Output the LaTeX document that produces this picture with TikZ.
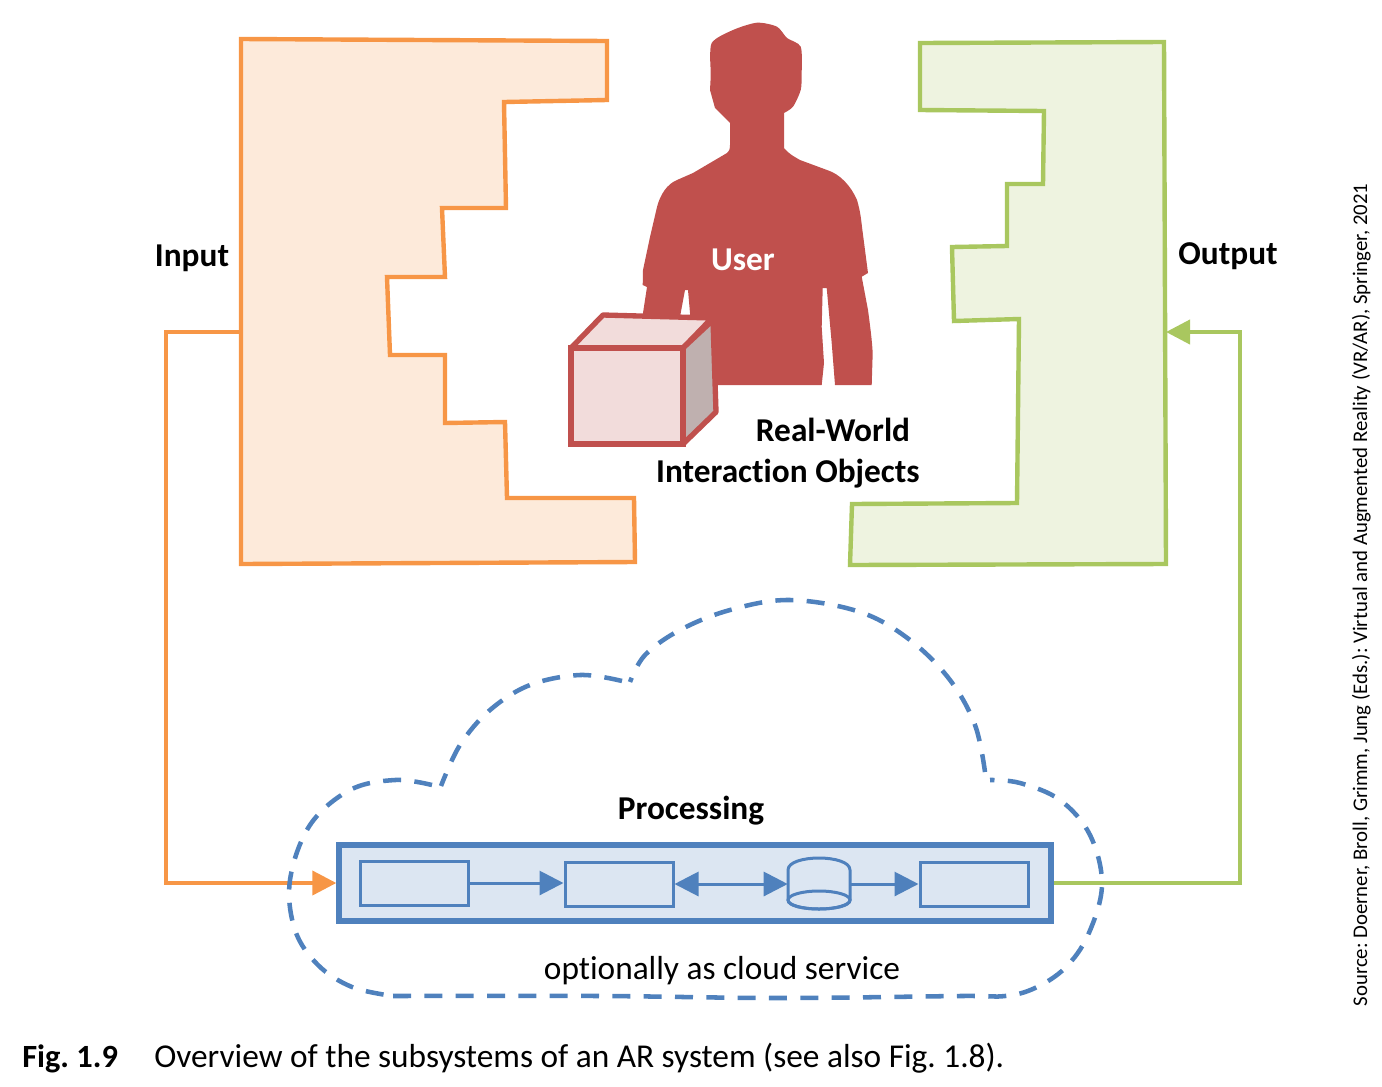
\documentclass[tikz,border=0pt]{standalone}
\usepackage{fontspec}
\setmainfont[Ligatures=NoCommon]{Carlito}
\usetikzlibrary{arrows.meta}
\definecolor{inO}{HTML}{F79646}
\definecolor{inF}{HTML}{FDEADA}
\definecolor{outG}{HTML}{A9C75F}
\definecolor{outF}{HTML}{EEF3E0}
\definecolor{usr}{HTML}{C0504D}
\definecolor{cubeF}{HTML}{F2DCDB}
\definecolor{cubeS}{HTML}{BFB0AF}
\definecolor{blu}{HTML}{4F81BD}
\definecolor{bluF}{HTML}{DCE6F2}
\tikzset{
  x=0.75pt,y=-0.75pt,
  lab/.style={inner sep=0pt,anchor=base,font=\fontsize{25}{30}\selectfont\bfseries},
  plain/.style={inner sep=0pt,anchor=base,font=\fontsize{25}{30}\selectfont},
  subsys/.style={line width=3.3pt,line join=miter},
  innerbox/.style={draw=blu,line width=2.25pt,inner sep=0pt,fill=bluF},
  flow/.style={blu,line width=2.25pt},
  bigtip/.style={-{Triangle[length=18pt,width=18pt]}},
  bothtip/.style={{Triangle[length=18pt,width=18pt]}-{Triangle[length=18pt,width=18pt]}},
  wire/.style={line width=3pt,line join=miter},
  cloudline/.style={blu,line width=3.4pt,dash pattern=on 13.5pt off 10pt},
}
\begin{document}
\frenchspacing
\begin{tikzpicture}
\useasboundingbox (0,0) rectangle (1382,1086);
% Input block
\draw[subsys,draw=inO,fill=inF] (241,39)--(607,41)--(607,100)--(504,102)--(506,208)--(442,208)--(445,277)--(387,277)--(390,355)--(445,355)--(445,423)--(505,422)--(507,498)--(634,498)--(635,562)--(241,564)--cycle;
% Output block
\draw[subsys,draw=outG,fill=outF] (920,43)--(1164,42)--(1166,564)--(850,565)--(852,504)--(1017,503)--(1019,319)--(954,321)--(952,247)--(1007,246)--(1007,184)--(1043,184)--(1044,111)--(920,110)--cycle;
% User silhouette
\fill[usr] plot[smooth,tension=0.45] coordinates {(710.7,70)(711.7,43)(733,30)(757,22.7)(777,26.7)(787,38)(800.7,46.7)(801.7,73)(800.7,90)(793,106.7)(784,113)}
  -- (784,148)
  .. controls (790,155) and (795,157) .. (800,160)
  -- (827,170)
  .. controls (840,174) and (851,186) .. (857,200)
  .. controls (860,210) and (861,218) .. (862,227)
  -- (868,273) -- (861.7,276.7) -- (868,310)
  .. controls (870,325) and (872,340) .. (872.7,353)
  -- (871.7,385) -- (835,385) -- (831.7,343) -- (826.7,288) -- (822.7,288) -- (821.7,327) -- (824,363) -- (821.7,385)
  -- (700,385) -- (690,313) -- (688,290) -- (685,290) -- (680.7,313) -- (665,385) -- (643,330) -- (643,313) -- (647,287) -- (642.7,285) -- (643,270) -- (650,237) -- (657,207)
  .. controls (660,195) and (667,184) .. (677,180)
  -- (693,173) -- (727,153)
  .. controls (730,150) and (730,148) .. (730,145)
  -- (730,123) -- (715,108) -- (710,90) -- (710.7,77) -- cycle;
% Cube
\draw[usr,line width=4pt,line join=bevel,fill=cubeF] (571,348)--(603,315)--(712,318)--(683,348)--cycle;
\draw[usr,line width=4pt,line join=bevel,fill=cubeS] (683,348)--(713,320)--(716,412)--(683,444)--cycle;
\draw[usr,line width=4pt,line join=miter,fill=cubeF] (571,348) rectangle (683,444);
% Processing
\node[draw=blu,fill=bluF,line width=4pt,inner sep=0pt,minimum width=534pt,minimum height=57pt] (proc) at (695,883) {};
\node[innerbox,minimum width=81pt,minimum height=33pt] (b1) at (414,883) {};
\node[innerbox,minimum width=81pt,minimum height=33pt] (b2) at (619,884) {};
\node[innerbox,minimum width=81pt,minimum height=33pt] (b3) at (974,884) {};
\node[inner sep=0pt,minimum width=46.5pt,minimum height=38pt] (cyl) at (819,883.5) {};
\draw[flow,fill=bluF] (788,870) .. controls (788,854) and (850,854) .. (850,870) -- (850,900) .. controls (850,912) and (788,912) .. (788,900) -- cycle;
\draw[flow] (819,900) ellipse [x radius=31,y radius=9];
\draw[flow,bigtip] (b1.east) -- (b2.west |- b1.east);
\draw[flow,bothtip] (b2.east) -- (cyl.west |- b2.east);
\draw[flow,bigtip] (cyl.east |- b3.west) -- (b3.west);
% Wires
\coordinate (inport) at (241,332);
\coordinate (outport) at (1166,332);
\draw[wire,inO,bigtip] (inport) -- (166,332) -- (166,883) -- (proc.west);
\draw[wire,outG,bigtip] (proc.east) -- (1240,883) -- (1240,332) -- (outport);
% Cloud
\draw[cloudline] plot[smooth,tension=0.6] coordinates {(393,996)(600,996)(780,998)(960,996)(1005,996)(1035,988)(1065,968)(1088,935)(1102,885)(1090,835)(1060,800)(1020,783)(990,780)};
\draw[cloudline] plot[smooth,tension=0.6] coordinates {(985,772)(975,725)(950,680)(910,640)(860,612)(790,600)(730,610)(680,630)(645,655)(630,682)};
\draw[cloudline] plot[smooth,tension=0.6] coordinates {(622,681)(580,675)(530,685)(490,710)(460,745)(441,786)};
\draw[cloudline] plot[smooth,tension=0.6] coordinates {(432,785)(395,780)(350,790)(310,825)(290,880)(295,930)(318,965)(352,987)(393,996)};
% Labels
\node[lab] (tin) at (192,266) {Input};
\node[lab] (tout) at (1228,264) {Output};
\node[lab,text=white] (tuser) at (743,270) {User};
\node[lab] (trw) at (833,441) {Real-World};
\node[lab] (tio) at (788,482) {Interaction Objects};
\node[lab] (tproc) at (691,819) {Processing};
\node[plain] (tcl) at (722,979) {optionally as cloud service};
\node[lab,anchor=base west,font=\fontsize{24.3}{29}\selectfont\bfseries] (figa) at (22,1067) {Fig. 1.9};
\node[plain,anchor=base west] (figb) at (154,1067) {Overview of the subsystems of an AR system (see also Fig. 1.8).};
\node[inner sep=0pt,anchor=base,rotate=90,font=\fontsize{15.6}{19}\selectfont] (src) at (1367,595) {Source: Doerner, Broll, Grimm, Jung (Eds.): Virtual and Augmented Reality (VR/AR), Springer, 2021};
\end{tikzpicture}
\end{document}
